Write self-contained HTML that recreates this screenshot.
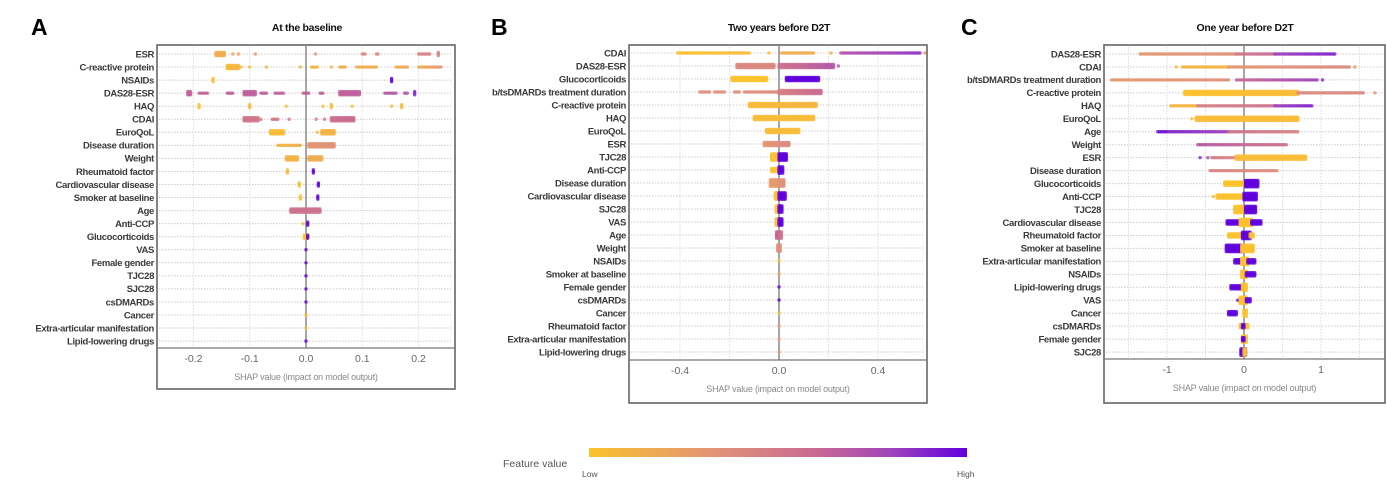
<!DOCTYPE html>
<html><head><meta charset="utf-8"><style>
html,body{margin:0;padding:0;background:#fff;}
svg{display:block;}
.lbl{font-family:"Liberation Sans",sans-serif;font-weight:bold;font-size:9.5px;fill:#3a3a3a;letter-spacing:-0.35px;}
.tick{font-family:"Liberation Sans",sans-serif;font-size:10.5px;fill:#666;}
.axt{font-family:"Liberation Sans",sans-serif;font-size:9px;fill:#888;letter-spacing:-0.2px;}
.ttl{font-family:"Liberation Sans",sans-serif;font-weight:bold;font-size:10.5px;fill:#111;letter-spacing:-0.3px;}
.big{font-family:"Liberation Sans",sans-serif;font-weight:bold;font-size:23px;fill:#000;}
</style></head><body>
<svg id="fig" width="1386" height="491" viewBox="0 0 1386 491" xmlns="http://www.w3.org/2000/svg">
<defs><linearGradient id="fg" x1="0" x2="1" y1="0" y2="0">
<stop offset="0" stop-color="#fbc22c"/><stop offset="0.35" stop-color="#e0907a"/><stop offset="0.6" stop-color="#c86a92"/><stop offset="0.8" stop-color="#a044bb"/><stop offset="1" stop-color="#6000dd"/></linearGradient></defs>
<g>
<text x="503" y="467" font-family="Liberation Sans, sans-serif" font-size="10.5" fill="#555">Feature value</text>
<rect x="589" y="448" width="378" height="9" fill="url(#fg)"/>
<text x="582" y="477" font-family="Liberation Sans, sans-serif" font-size="8.5" fill="#555">Low</text>
<text x="957" y="477" font-family="Liberation Sans, sans-serif" font-size="8.5" fill="#555">High</text>
</g>
</svg>
<script>
// ---------- Panel A data ----------
const featuresA = ["ESR","C-reactive protein","NSAIDs","DAS28-ESR","HAQ","CDAI","EuroQoL","Disease duration","Weight","Rheumatoid factor","Cardiovascular disease","Smoker at baseline","Age","Anti-CCP","Glucocorticoids","VAS","Female gender","TJC28","SJC28","csDMARDs","Cancer","Extra-articular manifestation","Lipid-lowering drugs"];
// segments: [row, shapStart, shapEnd, featureValueStart, featureValueEnd, spread]
const segmentsA = [
[0,-0.16,-0.145,0.15,0.15,3],[0,-0.13,-0.13,0.2,0.2,2],[0,-0.12,-0.12,0.2,0.2,2],[0,-0.09,-0.09,0.3,0.3,2],[0,0.017,0.017,0.3,0.3,2],[0,0.1,0.105,0.4,0.4,2],[0,0.125,0.128,0.4,0.4,2],[0,0.2,0.22,0.45,0.45,2],[0,0.235,0.235,0.45,0.45,3],
[1,-0.14,-0.12,0.05,0.1,4],[1,-0.115,-0.115,0.05,0.05,2],[1,-0.1,-0.1,0.05,0.05,2],[1,-0.07,-0.07,0.1,0.1,2],[1,-0.01,-0.01,0.1,0.1,2],[1,0.01,0.02,0.1,0.1,2],[1,0.045,0.045,0.1,0.1,2],[1,0.06,0.07,0.15,0.15,2],[1,0.09,0.125,0.15,0.15,1],[1,0.16,0.18,0.15,0.2,2],[1,0.2,0.24,0.15,0.3,2],
[2,-0.165,-0.165,0,0,4],[2,0.152,0.152,1,1,4],
[3,-0.21,-0.205,0.65,0.65,3],[3,-0.19,-0.175,0.65,0.65,2],[3,-0.14,-0.13,0.65,0.65,2],[3,-0.11,-0.09,0.65,0.65,3],[3,-0.08,-0.07,0.65,0.65,2],[3,-0.055,-0.04,0.65,0.65,2],[3,-0.005,0.005,0.65,0.65,2],[3,0.025,0.03,0.65,0.65,2],[3,0.06,0.095,0.65,0.65,3],[3,0.14,0.16,0.7,0.7,2],[3,0.175,0.18,0.7,0.7,2],[3,0.193,0.193,0.9,0.9,3],
[4,-0.19,-0.19,0,0,4],[4,-0.1,-0.1,0.05,0.05,3],[4,-0.035,-0.035,0.05,0.05,2],[4,0.03,0.03,0.05,0.05,2],[4,0.045,0.045,0.05,0.05,3],[4,0.082,0.082,0.05,0.05,2],[4,0.152,0.152,0.05,0.05,2],[4,0.17,0.17,0.05,0.05,4],
[5,-0.11,-0.085,0.55,0.5,3],[5,-0.08,-0.08,0.5,0.5,2],[5,-0.06,-0.05,0.5,0.5,2],[5,-0.03,-0.03,0.5,0.5,2],[5,0.018,0.018,0.5,0.5,2],[5,0.033,0.033,0.5,0.5,2],[5,0.045,0.085,0.55,0.6,3],
[6,-0.063,-0.04,0.05,0.05,3],[6,0.02,0.02,0.05,0.05,2],[6,0.028,0.05,0.1,0.1,3],
[7,-0.05,-0.01,0.1,0.15,2],[7,0.005,0.05,0.3,0.35,3],
[8,-0.035,-0.015,0.1,0.1,3],[8,0.005,0.028,0.15,0.15,3],
[9,-0.033,-0.033,0.05,0.05,3],[9,0.013,0.013,1,1,4],
[10,-0.012,-0.012,0,0,4],[10,0.022,0.022,1,1,3],
[11,-0.01,-0.01,0,0,4],[11,0.021,0.021,1,1,3],
[12,-0.027,0.025,0.55,0.55,4],
[13,-0.005,-0.005,0,0,2],[13,0.003,0.003,1,1,4],
[14,-0.003,0.002,0,0,4],[14,0.003,0.003,1,1,3],
[15,0,0,1,1,1],[16,0,0,1,1,1],[17,0,0,1,1,1],[18,0,0,1,1,1],[19,0,0,1,1,1],[20,0,0,0,0,1],[21,0,0,0,0,1],[22,0,0,1,1,1]];
const ticksA = [-0.2,-0.1,0,0.1,0.2];
const tickLabelsA = ["-0.2","-0.1","0.0","0.1","0.2"];

// ---------- Panel B data ----------
const featuresB = ["CDAI","DAS28-ESR","Glucocorticoids","b/tsDMARDs treatment duration","C-reactive protein","HAQ","EuroQoL","ESR","TJC28","Anti-CCP","Disease duration","Cardiovascular disease","SJC28","VAS","Age","Weight","NSAIDs","Smoker at baseline","Female gender","csDMARDs","Cancer","Rheumatoid factor","Extra-articular manifestation","Lipid-lowering drugs"];
const segmentsB = [
[0,-0.41,-0.12,0,0.05,2],[0,-0.04,-0.04,0.05,0.05,2],[0,0.01,0.14,0.15,0.15,2],[0,0.21,0.21,0.15,0.15,2],[0,0.25,0.57,0.7,0.85,2],[0,0.59,0.59,0.3,0.3,2],
[1,-0.17,-0.02,0.4,0.4,3],[1,0.0,0.22,0.55,0.7,3],[1,0.24,0.24,0.7,0.7,2],
[2,-0.19,-0.05,0,0,3],[2,0.03,0.16,1,1,4],
[3,-0.32,-0.28,0.35,0.35,2],[3,-0.26,-0.22,0.35,0.35,2],[3,-0.18,-0.16,0.35,0.35,2],[3,-0.14,0.0,0.35,0.4,2],[3,0.0,0.17,0.45,0.6,3],
[4,-0.12,0.15,0.05,0.1,4],
[5,-0.1,0.14,0.05,0.05,4],
[6,-0.05,-0.03,0.9,0.9,2],[6,-0.05,0.08,0.05,0.05,3],
[7,-0.06,0.04,0.3,0.4,4],
[8,-0.03,-0.01,0,0,6],[8,0.0,0.03,1,1,6],
[9,-0.03,-0.005,0,0,4],[9,0.0,0.015,1,1,5],
[10,-0.035,0.02,0.25,0.35,5],
[11,-0.015,-0.005,0,0,5],[11,0.0,0.025,1,1,5],
[12,-0.012,-0.003,0,0,5],[12,0.0,0.012,1,1,5],
[13,-0.012,-0.003,0,0,5],[13,0.0,0.012,1,1,5],
[14,-0.01,0.01,0.65,0.55,5],[15,-0.005,0.005,0.35,0.35,5],
[16,0,0,0,0,1],[17,0,0,0.2,0.2,1],[18,0,0,1,1,1],[19,0,0,1,1,1],[20,0,0,0,0,1],[21,0,0,0.3,0.3,1],[22,0,0,0.3,0.3,1],[23,0,0,0.3,0.3,1]];
const ticksB = [-0.4,0,0.4];
const tickLabelsB = ["-0.4","0.0","0.4"];

// ---------- Panel C data ----------
const featuresC = ["DAS28-ESR","CDAI","b/tsDMARDs treatment duration","C-reactive protein","HAQ","EuroQoL","Age","Weight","ESR","Disease duration","Glucocorticoids","Anti-CCP","TJC28","Cardiovascular disease","Rheumatoid factor","Smoker at baseline","Extra-articular manifestation","NSAIDs","Lipid-lowering drugs","VAS","Cancer","csDMARDs","Female gender","SJC28"];
const segmentsC = [
[0,-1.35,-0.1,0.3,0.35,2],[0,-0.1,0.4,0.5,0.6,2],[0,0.4,1.18,0.8,0.9,2],
[1,-0.88,-0.88,0.05,0.05,2],[1,-0.8,-0.2,0.1,0.1,2],[1,-0.2,1.37,0.3,0.4,2],[1,1.44,1.44,0.3,0.3,2],
[2,-1.72,-0.2,0.3,0.35,2],[2,-0.1,0.95,0.6,0.8,2],[2,1.02,1.02,0.9,0.9,2],
[3,-0.77,0.7,0,0.05,3],[3,0.7,1.55,0.4,0.4,2],[3,1.7,1.7,0.3,0.3,2],
[4,-0.95,-0.6,0.1,0.1,2],[4,-0.6,0.4,0.45,0.55,2],[4,0.4,0.88,0.8,0.9,2],
[5,-0.68,-0.68,0.05,0.05,2],[5,-0.62,0.7,0.05,0.05,3],
[6,-1.12,-1.0,0.95,0.95,2],[6,-0.98,-0.2,0.9,0.8,2],[6,-0.2,0.7,0.55,0.45,2],
[7,-0.6,0.55,0.7,0.55,2],
[8,-0.57,-0.57,0.9,0.9,2],[8,-0.47,-0.47,0.8,0.8,2],[8,-0.42,-0.1,0.5,0.4,2],[8,-0.1,0.8,0.05,0.05,3],
[9,-0.44,0.43,0.45,0.35,2],
[10,-0.25,-0.02,0,0,4],[10,0.02,0.18,1,1,5],
[11,-0.4,-0.4,0.05,0.05,2],[11,-0.35,-0.02,0,0,3],[11,0.0,0.16,1,1,5],
[12,-0.12,-0.02,0,0,5],[12,0.02,0.15,1,1,6],
[13,-0.22,-0.05,1,1,4],[13,-0.05,0.1,0,0,5],[13,0.1,0.22,1,1,3],
[14,-0.2,-0.02,0,0,4],[14,-0.02,0.08,1,1,5],[14,0.08,0.12,0,0,3],
[15,-0.23,-0.03,1,1,5],[15,-0.03,0.12,0,0,5],
[16,-0.12,-0.02,1,1,4],[16,-0.03,0.05,0,0,5],[16,0.05,0.14,1,1,4],
[17,-0.03,0.03,0,0,5],[17,0.03,0.14,1,1,4],
[18,-0.17,-0.02,1,1,4],[18,-0.02,0.03,0,0,5],
[19,-0.08,-0.05,1,1,2],[19,-0.05,0.03,0,0,5],[19,0.03,0.08,1,1,4],
[20,-0.2,-0.1,1,1,3],[20,0,0.03,0,0,5],
[21,-0.05,0.05,0,0,4],[21,-0.02,0.0,1,1,4],
[22,-0.02,0.03,0,0,5],[22,-0.02,0.0,1,1,4],
[23,-0.04,0.02,1,1,5],[23,0,0.02,0,0,5]];
const ticksC = [-1,0,1];
const tickLabelsC = ["-1","0","1"];

const NS = "http://www.w3.org/2000/svg";
const svg = document.getElementById('fig');
function mk(tag, attrs, parent){const e=document.createElementNS(NS,tag);for(const k in attrs)e.setAttribute(k,attrs[k]);(parent||svg).appendChild(e);return e;}
const stops=[[0,[251,194,44]],[0.35,[224,144,122]],[0.6,[200,106,146]],[0.8,[160,68,187]],[1,[96,0,221]]];
function color(v){v=Math.max(0,Math.min(1,v));for(let i=1;i<stops.length;i++){if(v<=stops[i][0]){const a=stops[i-1],b=stops[i];const t=(v-a[0])/(b[0]-a[0]);const c=a[1].map((x,j)=>Math.round(x+(b[1][j]-x)*t));return `rgb(${c[0]},${c[1]},${c[2]})`;}}return 'rgb(96,0,221)';}

function panel(cfg, features, segments, ticks, tickLabels){
  const g = mk('g',{});
  
  
  const xs = v => cfg.zero + v*cfg.ppu;
  const ys = i => cfg.row0 + i*cfg.step;
  const L = mk('text',{x:cfg.letterX,y:35,class:'big'},g); L.textContent=cfg.letter;
   
  const T = mk('text',{x:cfg.titleX,y:31,class:'ttl','text-anchor':'middle'},g); T.textContent=cfg.title;
   
  cfg.grid.forEach(v=>{ const l=mk('line',{x1:xs(v),x2:xs(v),y1:cfg.top+2,y2:cfg.axisY,stroke:'#ddd','stroke-width':1,'stroke-dasharray':'1.5,1.5'},g);
      });
  features.forEach((f,i)=>{
    const l=mk('line',{x1:cfg.left+2,x2:cfg.right-2,y1:ys(i),y2:ys(i),stroke:'#ccc','stroke-width':1,'stroke-dasharray':'1.5,1.5'},g);
     
    const t=mk('text',{x:cfg.left-3,y:ys(i)+3.3,class:'lbl','text-anchor':'end'},g); t.textContent=f;
     
  });
  const z=mk('line',{x1:xs(0),x2:xs(0),y1:cfg.top+1,y2:cfg.axisY,stroke:'#777','stroke-width':1.3},g);
   
  const dg=mk('g',{},g);
   
  segments.forEach(s=>{
    const [r,a,b,c0,c1,h]=s; const x0=xs(a),x1=xs(b); const y=ys(r);
    const n=Math.max(1,Math.round((x1-x0)/1.6)+1);
    const layers = Math.max(1,Math.round(h/2));
    for(let k=0;k<n;k++){
      const t=n===1?0:k/(n-1); const x=x0+(x1-x0)*t; const col=color(c0+(c1-c0)*t);
      for(let m=-layers+1;m<layers;m++){
        const yy=y+m*1.6;
        const d=mk('circle',{cx:x.toFixed(2),cy:yy.toFixed(2),r:1.7,fill:col,'fill-opacity':0.8},dg);
         
      }
    }
  });
  const bx=mk('rect',{x:cfg.left,y:cfg.top,width:cfg.right-cfg.left,height:cfg.bottom-cfg.top,fill:'none',stroke:'#666','stroke-width':1.6},g);
   
  const ax=mk('line',{x1:cfg.left,x2:cfg.right,y1:cfg.axisY,y2:cfg.axisY,stroke:'#777','stroke-width':1.2},g);
   
  ticks.forEach((v,i)=>{
    const t=mk('text',{x:xs(v),y:cfg.axisY+14,class:'tick','text-anchor':'middle'},g); t.textContent=tickLabels[i];
     
  });
  const at=mk('text',{x:(cfg.left+cfg.right)/2,y:cfg.axisY+32,class:'axt','text-anchor':'middle'},g);
  at.textContent='SHAP value (impact on model output)';
   
}

panel({name:'panel-a-baseline',letter:'A',letterX:31,title:'At the baseline',titleX:307,left:157,right:455,top:45,axisY:348,bottom:389,row0:54,step:13.05,zero:306,ppu:563,grid:[-0.2,-0.1,0.1,0.2]}, featuresA, segmentsA, ticksA, tickLabelsA);
panel({name:'panel-b-two-years',letter:'B',letterX:491,title:'Two years before D2T',titleX:779,left:629,right:927,top:45,axisY:360,bottom:403,row0:53,step:13.0,zero:779,ppu:247.5,grid:[-0.4,-0.2,0.2,0.4]}, featuresB, segmentsB, ticksB, tickLabelsB);
panel({name:'panel-c-one-year',letter:'C',letterX:961,title:'One year before D2T',titleX:1245,left:1104,right:1385,top:45,axisY:359,bottom:403,row0:54,step:12.96,zero:1244,ppu:77,grid:[-1.5,-1,-0.5,0.5,1,1.5]}, featuresC, segmentsC, ticksC, tickLabelsC);
</script>
</body></html>
